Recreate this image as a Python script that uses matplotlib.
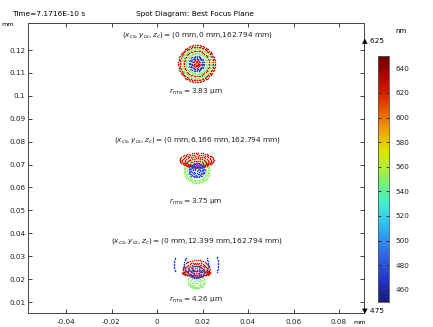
import matplotlib
matplotlib.use('Agg')
import matplotlib.pyplot as plt
import numpy as np
from matplotlib.colors import Normalize, LinearSegmentedColormap

# wavelengths traced (nm) and colour range of the legend
wavelengths = [550, 625, 475]
wl_min, wl_max = 450, 650
legend_ticks = [460, 480, 500, 520, 540, 560, 580, 600, 620, 640]

# rainbow table of the wavelength legend
rainbow_wl = [450, 465, 485, 500, 515, 530, 545, 560, 575, 590, 605, 620, 635, 650]
rainbow_rgb = ['#1c1c78', '#2230c0', '#3060e0', '#3090f0', '#30c8f0', '#40f0d0', '#70f080',
               '#b8f030', '#e0e000', '#f0a000', '#e86000', '#d82000', '#b00000', '#700000']

# spot centroids on the image plane (mm)
spot_x = [0.0174, 0.0174, 0.0172]
spot_y = [0.1141, 0.0689, 0.0231]
field_y = ['0 mm', '6.166 mm', '12.399 mm']
z_c = '162.794 mm'
r_rms = [3.83, 3.75, 4.26]   # um
label_y = [0.1265, 0.0807, 0.0366]
rms_y = [0.1017, 0.0538, 0.0109]

# ray rings per spot and wavelength: (rx, ry, dy, arc) in um,
# arc = half angle (deg) kept around the horizontal, 90 = full ring
spot1_rings = {
    550: [(6.8, 6.8, 0, 90), (6.2, 6.2, 0, 90), (4.8, 4.8, 0, 90), (4.2, 4.2, 0, 90)],
    625: [(8.0, 8.0, 0, 90), (7.3, 7.3, 0, 90), (5.5, 5.5, 0, 90),
          (1.8, 1.8, 0, 90), (1.2, 1.2, 0, 90), (0.6, 0.6, 0, 90)],
    475: [(3.3, 3.3, 0, 90), (2.8, 2.8, 0, 90), (2.3, 2.3, 0, 90)],
}
spot2_rings = {
    550: [(5.7, 5.7, -1.3, 90), (5.0, 5.0, -1.3, 90), (4.2, 4.2, -1.5, 90)],
    625: [(7.5, 3.1, 3.1, 90), (6.4, 2.7, 2.8, 90), (5.3, 2.3, 2.4, 90),
          (4.1, 1.9, 1.9, 90), (2.9, 1.5, 1.3, 90), (1.6, 1.0, 0.7, 90)],
    475: [(3.5, 3.2, -1.3, 90), (2.9, 2.7, -1.3, 90), (2.3, 2.1, -1.2, 90),
          (1.6, 1.5, -1.1, 90), (0.9, 0.8, -0.9, 90)],
}
spot3_rings = {
    550: [(3.7, 2.9, -4.2, 90), (2.8, 2.3, -4.7, 90), (1.8, 1.7, -5.2, 90), (0.8, 1.0, -5.7, 90)],
    625: [(5.9, 3.7, 1.5, 90), (4.8, 2.8, 1.3, 90), (6.2, 1.3, -0.4, 90),
          (5.4, 0.9, -0.6, 90), (3.4, 1.9, 1.5, 90), (2.0, 1.2, 1.6, 90)],
    475: [(9.7, 8.8, 3.3, 22), (5.3, 5.3, 3.3, 38), (3.5, 2.6, 0.0, 90), (2.4, 1.8, -0.2, 90),
          (1.3, 1.1, -0.4, 90)],
}
rings = [spot1_rings, spot2_rings, spot3_rings]

cmap = LinearSegmentedColormap.from_list(
    'rainbow_wl', [((w - wl_min) / (wl_max - wl_min), c) for w, c in zip(rainbow_wl, rainbow_rgb)])
norm = Normalize(wl_min, wl_max)


def ring_points(cx, cy, rx, ry, dy, arc):
    # evenly spaced rays round one pupil ring
    n = max(8, int(4.5 * (rx + ry)))
    t = np.linspace(0, 2 * np.pi, n, endpoint=False)
    if arc < 90:
        t = t[np.abs(np.sin(t)) <= np.sin(np.radians(arc))]
    x = cx + rx * np.cos(t) / 1000
    y = cy + (dy + ry * np.sin(t)) / 1000
    return x, y


fig = plt.figure(figsize=(4.33, 3.27), dpi=100)
ax = fig.add_axes([0.0647, 0.0428, 0.7760, 0.8869])

for i in range(3):
    for wl in wavelengths:
        for rx, ry, dy, arc in rings[i][wl]:
            x, y = ring_points(spot_x[i], spot_y[i], rx, ry, dy, arc)
            ax.scatter(x, y, s=1.2, color=cmap(norm(wl)), linewidths=0, zorder=2)

    ax.text(0.0176, label_y[i],
            r'$(x_{cs},y_{cs},z_c)=($0 mm,' + field_y[i] + ',' + z_c + r'$)$',
            ha='center', va='center', fontsize=5.3, color='#222222', zorder=3)
    ax.text(0.0171, rms_y[i], r'$r_{\mathrm{rms}}=$' + '%.2f μm' % r_rms[i],
            ha='center', va='center', fontsize=5.3, color='#222222', zorder=3,
            bbox=dict(facecolor='white', edgecolor='none', pad=1.0, alpha=0.9))

ax.set_xlim(-0.0567, 0.0910)
ax.set_ylim(0.0052, 0.1318)
ax.set_xticks([-0.04, -0.02, 0, 0.02, 0.04, 0.06, 0.08])
ax.set_xticklabels(['-0.04', '-0.02', '0', '0.02', '0.04', '0.06', '0.08'])
yt = [0.01 * k for k in range(1, 13)]
ax.set_yticks(yt)
ax.set_yticklabels(['%g' % round(v, 2) for v in yt])
ax.tick_params(direction='in', length=3, width=0.6, labelsize=5.2, colors='#222222',
               top=True, right=True)
ax.tick_params(axis='x', pad=4)
ax.tick_params(axis='y', pad=2)
for s in ax.spines.values():
    s.set_linewidth(0.7)
    s.set_color('#444444')

fig.text(12 / 433, 1 - 14 / 327, 'Time=7.1716E-10 s', fontsize=5.3, va='center', ha='left')
fig.text(195 / 433, 1 - 14 / 327, 'Spot Diagram: Best Focus Plane', fontsize=5.3,
         va='center', ha='center')
fig.text(1 / 433, 1 - 24 / 327, 'mm', fontsize=4.6, va='center', ha='left')
fig.text(353 / 433, 1 - 322 / 327, 'mm', fontsize=4.6, va='center', ha='left')

# wavelength colour legend drawn as a gradient strip
cax = fig.add_axes([378 / 433, 1 - 302 / 327, 11 / 433, 246 / 327])
grad = np.linspace(wl_min, wl_max, 400)[:, None]
cax.imshow(grad, aspect='auto', cmap=cmap, norm=norm, origin='lower',
           extent=[0, 1, wl_min, wl_max], interpolation='bilinear')
cax.set_xlim(0, 1)
cax.set_ylim(wl_min, wl_max)
cax.set_xticks([])
cax.set_yticks(legend_ticks)
cax.yaxis.tick_right()
cax.tick_params(direction='in', length=2, width=0.6, labelsize=5.2, left=True, right=True,
                labelleft=False, labelright=True, pad=5, colors='#222222')
for s in cax.spines.values():
    s.set_linewidth(0.6)
    s.set_color('#555555')
fig.text(395 / 433, 1 - 31 / 327, 'nm', fontsize=5.0, va='center', ha='left')
fig.text(362 / 433, 1 - 40 / 327, '▲ 625', fontsize=5.3, va='center', ha='left')
fig.text(362 / 433, 1 - 310 / 327, '▼ 475', fontsize=5.3, va='center', ha='left')

fig.savefig('out.png', dpi=100)
